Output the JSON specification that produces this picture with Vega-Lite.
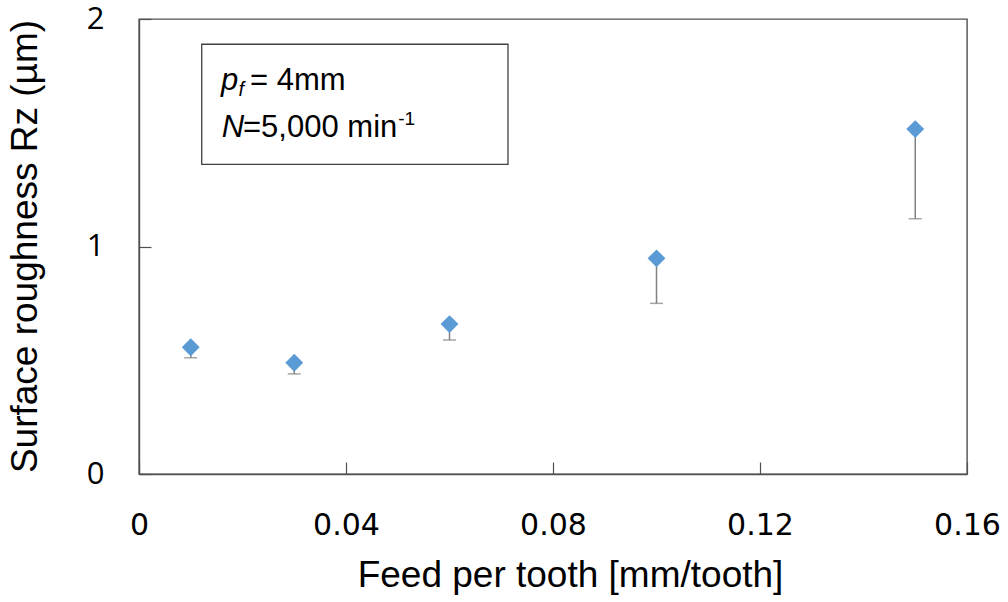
{
  "$schema": "https://vega.github.io/schema/vega-lite/v6.json",
  "width": 828,
  "height": 455,
  "autosize": {"type": "none"},
  "padding": {"left": 139, "top": 19, "right": 41, "bottom": 128},
  "background": "white",
  "config": {
    "view": {"stroke": "#505050", "strokeWidth": 1.4},
    "axis": {
      "grid": false,
      "domainColor": "#505050",
      "domainWidth": 1.4,
      "tickColor": "#505050",
      "tickWidth": 1.2,
      "tickSize": -12,
      "labelFlush": false,
      "labelOverlap": false,
      "labelColor": "#000000",
      "titleColor": "#000000",
      "titleFont": "Liberation Sans",
      "titleFontSize": 37,
      "titleFontWeight": "normal"
    }
  },
  "datasets": {
    "points": [
      {"feed": 0.01, "rz": 0.557, "low": 0.511},
      {"feed": 0.03, "rz": 0.489, "low": 0.44},
      {"feed": 0.06, "rz": 0.659, "low": 0.589},
      {"feed": 0.10, "rz": 0.948, "low": 0.75},
      {"feed": 0.15, "rz": 1.516, "low": 1.122}
    ],
    "box": [
      {"x1": 0.01212, "x2": 0.0713, "y1": 1.889, "y2": 1.361}
    ],
    "notes": [
      {"x": 0.01585, "y": 1.688, "label": "p", "kind": "italic"},
      {"x": 0.01925, "y": 1.662, "label": "f", "kind": "italicSmall"},
      {"x": 0.02145, "y": 1.688, "label": "= 4mm", "kind": "normal"},
      {"x": 0.01598, "y": 1.483, "label": "N", "kind": "italic"},
      {"x": 0.0201, "y": 1.483, "label": "=5,000 min", "kind": "normal"},
      {"x": 0.0501, "y": 1.535, "label": "-1", "kind": "normalSmall"}
    ]
  },
  "layer": [
    {
      "data": {"name": "points"},
      "mark": {"type": "rule", "color": "#808080", "strokeWidth": 1.5},
      "encoding": {
        "x": {
          "field": "feed", "type": "quantitative",
          "scale": {"domain": [0, 0.16], "nice": false},
          "axis": {
            "values": [0, 0.04, 0.08, 0.12, 0.16],
            "format": ".2~f",
            "labelFont": "DejaVu Sans",
            "labelFontSize": 30,
            "labelPadding": 48,
            "title": "Feed per tooth [mm/tooth]",
            "titleX": 431,
            "titleY": 101,
            "titleBaseline": "middle"
          }
        },
        "y": {
          "field": "rz", "type": "quantitative",
          "scale": {"domain": [0, 2], "nice": false},
          "axis": {
            "values": [0, 1, 2],
            "tickCount": 3,
            "format": ".0f",
            "labelFont": "Open Sans",
            "labelFontSize": 31,
            "labelPadding": 47,
            "title": "Surface roughness Rz (µm)",
            "titleX": -114,
            "titleY": 227,
            "titleBaseline": "middle"
          }
        },
        "y2": {"field": "low"}
      }
    },
    {
      "data": {"name": "box"},
      "mark": {"type": "rect", "fill": "white", "stroke": "#404040", "strokeWidth": 1.3},
      "encoding": {
        "x": {"field": "x1", "type": "quantitative"},
        "x2": {"field": "x2"},
        "y": {"field": "y1", "type": "quantitative"},
        "y2": {"field": "y2"}
      }
    },
    {
      "data": {"name": "points"},
      "mark": {"type": "tick", "orient": "horizontal", "color": "#808080", "size": 13, "thickness": 1.5},
      "encoding": {
        "x": {"field": "feed", "type": "quantitative"},
        "y": {"field": "low", "type": "quantitative"}
      }
    },
    {
      "data": {"name": "points"},
      "mark": {"type": "point", "shape": "diamond", "filled": true, "color": "#5B9BD5", "size": 320, "opacity": 1},
      "encoding": {
        "x": {"field": "feed", "type": "quantitative"},
        "y": {"field": "rz", "type": "quantitative"}
      }
    },
    {
      "data": {"name": "notes"},
      "transform": [{"filter": "datum.kind === 'italic'"}],
      "mark": {"type": "text", "font": "Liberation Sans", "fontSize": 31, "fontStyle": "italic", "align": "left", "baseline": "alphabetic", "color": "#000000"},
      "encoding": {
        "x": {"field": "x", "type": "quantitative"},
        "y": {"field": "y", "type": "quantitative"},
        "text": {"field": "label"}
      }
    },
    {
      "data": {"name": "notes"},
      "transform": [{"filter": "datum.kind === 'normal'"}],
      "mark": {"type": "text", "font": "Liberation Sans", "fontSize": 31, "align": "left", "baseline": "alphabetic", "color": "#000000"},
      "encoding": {
        "x": {"field": "x", "type": "quantitative"},
        "y": {"field": "y", "type": "quantitative"},
        "text": {"field": "label"}
      }
    },
    {
      "data": {"name": "notes"},
      "transform": [{"filter": "datum.kind === 'italicSmall'"}],
      "mark": {"type": "text", "font": "Liberation Sans", "fontSize": 20, "fontStyle": "italic", "align": "left", "baseline": "alphabetic", "color": "#000000"},
      "encoding": {
        "x": {"field": "x", "type": "quantitative"},
        "y": {"field": "y", "type": "quantitative"},
        "text": {"field": "label"}
      }
    },
    {
      "data": {"name": "notes"},
      "transform": [{"filter": "datum.kind === 'normalSmall'"}],
      "mark": {"type": "text", "font": "Liberation Sans", "fontSize": 19, "align": "left", "baseline": "alphabetic", "color": "#000000"},
      "encoding": {
        "x": {"field": "x", "type": "quantitative"},
        "y": {"field": "y", "type": "quantitative"},
        "text": {"field": "label"}
      }
    }
  ]
}
